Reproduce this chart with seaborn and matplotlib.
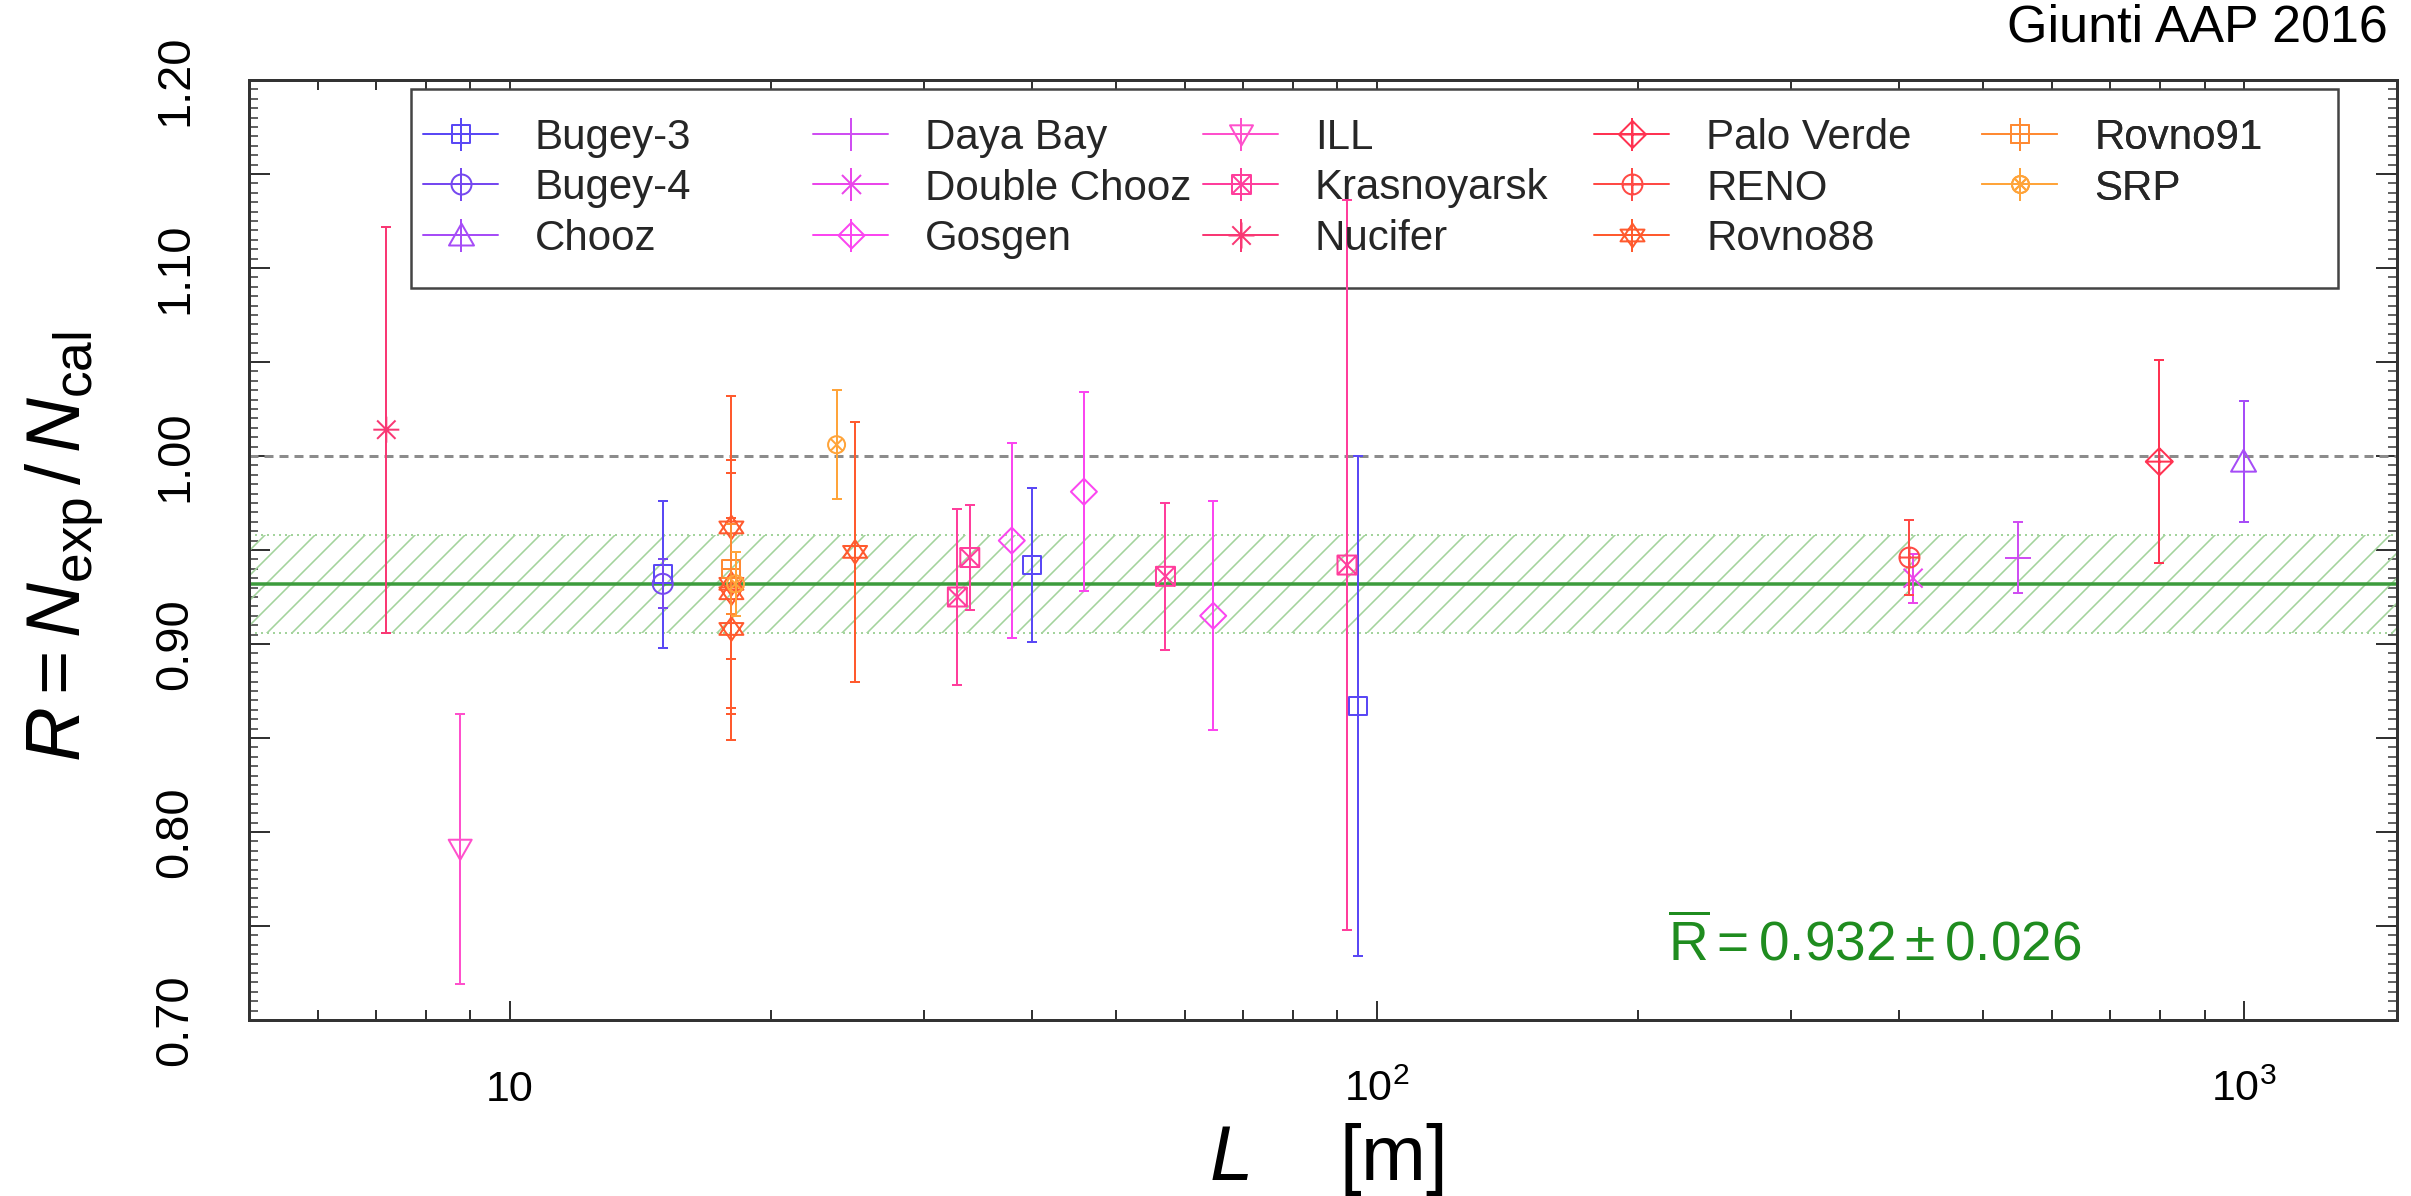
import numpy as np
import pandas as pd
import matplotlib
matplotlib.use("Agg")
import matplotlib.pyplot as plt
from matplotlib.path import Path
from matplotlib.lines import Line2D
from matplotlib.legend_handler import HandlerTuple
from matplotlib.patches import Rectangle
import matplotlib.ticker as mticker
import seaborn as sns

# ---------------- data ----------------
experiments = ["Bugey-3", "Bugey-4", "Chooz", "Daya Bay", "Double Chooz", "Gosgen",
               "ILL", "Krasnoyarsk", "Nucifer", "Palo Verde", "RENO", "Rovno88",
               "Rovno91", "SRP"]

bugey3_L = [15.0, 40.0, 95.0]
bugey3_R = [0.937, 0.942, 0.867]
bugey3_err = [0.039, 0.041, 0.133]

bugey4_L = [15.0]
bugey4_R = [0.932]
bugey4_err = [0.013]

chooz_L = [998.0]
chooz_R = [0.997]
chooz_err = [0.032]

dayabay_L = [549.0]
dayabay_R = [0.946]
dayabay_err = [0.019]

doublechooz_L = [415.0]
doublechooz_R = [0.935]
doublechooz_err = [0.013]

gosgen_L = [37.9, 45.9, 64.7]
gosgen_R = [0.955, 0.981, 0.915]
gosgen_err = [0.052, 0.053, 0.061]

ill_L = [8.76]
ill_R = [0.791]
ill_err = [0.072]

krasnoyarsk_L = [32.8, 33.9, 57.0, 92.3]
krasnoyarsk_R = [0.925, 0.946, 0.936, 0.942]
krasnoyarsk_err = [0.047, 0.028, 0.039, 0.194]

nucifer_L = [7.2]
nucifer_R = [1.014]
nucifer_err = [0.108]

paloverde_L = [798.0]
paloverde_R = [0.997]
paloverde_err = [0.054]

reno_L = [411.0]
reno_R = [0.946]
reno_err = [0.020]

rovno88_L = [18.0, 18.0, 18.0, 18.0, 25.0]
rovno88_R = [0.962, 0.932, 0.927, 0.908, 0.949]
rovno88_err = [0.070, 0.066, 0.064, 0.059, 0.069]

rovno91_L = [18.0]
rovno91_R = [0.940]
rovno91_err = [0.024]

srp_L = [18.2, 23.8]
srp_R = [0.932, 1.006]
srp_err = [0.017, 0.029]

R_mean = 0.932
R_sigma = 0.026
R_ref = 1.0

x_tick_values = [10, 100, 1000]
x_tick_labels = ["10", "$10^{2}$", "$10^{3}$"]
y_tick_values = [0.70, 0.75, 0.80, 0.85, 0.90, 0.95, 1.00, 1.05, 1.10, 1.15, 1.20]
y_tick_labels = ["0.70", "", "0.80", "", "0.90", "", "1.00", "", "1.10", "", "1.20"]

series = {
    "Bugey-3": (bugey3_L, bugey3_R, bugey3_err),
    "Bugey-4": (bugey4_L, bugey4_R, bugey4_err),
    "Chooz": (chooz_L, chooz_R, chooz_err),
    "Daya Bay": (dayabay_L, dayabay_R, dayabay_err),
    "Double Chooz": (doublechooz_L, doublechooz_R, doublechooz_err),
    "Gosgen": (gosgen_L, gosgen_R, gosgen_err),
    "ILL": (ill_L, ill_R, ill_err),
    "Krasnoyarsk": (krasnoyarsk_L, krasnoyarsk_R, krasnoyarsk_err),
    "Nucifer": (nucifer_L, nucifer_R, nucifer_err),
    "Palo Verde": (paloverde_L, paloverde_R, paloverde_err),
    "RENO": (reno_L, reno_R, reno_err),
    "Rovno88": (rovno88_L, rovno88_R, rovno88_err),
    "Rovno91": (rovno91_L, rovno91_R, rovno91_err),
    "SRP": (srp_L, srp_R, srp_err),
}

# ---------------- styling ----------------
DPI = 150
W, H = 2412, 1196


def pt(px):
    return px * 72.0 / DPI


MO, LI, CL = Path.MOVETO, Path.LINETO, Path.CLOSEPOLY


def closed(pts):
    return Path(list(pts) + [pts[0]], [MO] + [LI] * (len(pts) - 1) + [CL])


def seg(p, q):
    return Path([p, q], [MO, LI])


def scaled(path, sx, sy):
    return Path(path.vertices * np.array([sx, sy]), path.codes)


def comp(*paths):
    return Path.make_compound_path(*paths)


square = closed([(-1, -1), (1, -1), (1, 1), (-1, 1)])
diag = comp(seg((-1, -1), (1, 1)), seg((-1, 1), (1, -1)))
cross = comp(seg((-1, 0), (1, 0)), seg((0, -1), (0, 1)))
circle = Path.unit_circle()
diamond = closed([(0, -1), (1, 0), (0, 1), (-1, 0)])
tri_up = closed([(0, 0.95), (-1, -0.8), (1, -0.8)])
tri_down = closed([(0, -0.95), (-1, 0.8), (1, 0.8)])
hexagram = comp(scaled(closed([(0, 1), (-0.866, -0.5), (0.866, -0.5)]), 1, 0.85),
                scaled(closed([(0, -1), (-0.866, 0.5), (0.866, 0.5)]), 1, 0.85))
asterisk = comp(seg((-1, 0), (1, 0)), seg((0, -1), (0, 1)),
                seg((-0.707, -0.707), (0.707, 0.707)), seg((-0.707, 0.707), (0.707, -0.707)))

style = {
    "Bugey-3": ("#5a48f5", square, 18),
    "Bugey-4": ("#7548f0", circle, 20),
    "Chooz": ("#a64cf7", tri_up, 25),
    "Daya Bay": ("#cf4ef2", cross, 26),
    "Double Chooz": ("#ea46ea", diag, 19),
    "Gosgen": ("#fb46f0", diamond, 26),
    "ILL": ("#ff50cc", tri_down, 23),
    "Krasnoyarsk": ("#ff3e9c", comp(square, diag), 19),
    "Nucifer": ("#f93874", asterisk, 26),
    "Palo Verde": ("#ff3352", comp(diamond, cross), 27),
    "RENO": ("#ff4a45", comp(circle, cross), 20),
    "Rovno88": ("#ff5a2e", hexagram, 24),
    "Rovno91": ("#ff8a33", comp(square, cross), 18),
    "SRP": ("#ffa43a", comp(circle, scaled(diag, 0.707, 0.707)), 17),
}

sns.set_theme(style="ticks")
plt.rcParams["font.family"] = ["Liberation Sans", "DejaVu Sans"]
plt.rcParams["mathtext.fontset"] = "custom"
plt.rcParams["mathtext.rm"] = "Liberation Sans"
plt.rcParams["mathtext.it"] = "Liberation Sans:italic"
plt.rcParams["mathtext.bf"] = "Liberation Sans:bold"
plt.rcParams["hatch.linewidth"] = pt(1.6)
plt.rcParams["axes.edgecolor"] = "#333333"

fig = plt.figure(figsize=(W / DPI, H / DPI), dpi=DPI)
ax_l, ax_r, ax_t, ax_b = 249, 2397, 80, 1020
ax = fig.add_axes([ax_l / W, 1 - ax_b / H, (ax_r - ax_l) / W, (ax_b - ax_t) / H])
ax.set_xscale("log")

# band, reference lines
band_c = "#a3d39c"
ax.axhspan(R_mean - R_sigma, R_mean + R_sigma, facecolor="none", edgecolor=band_c,
           hatch="//", linewidth=0, zorder=1)
for yb in (R_mean - R_sigma, R_mean + R_sigma):
    ax.axhline(yb, color=band_c, lw=pt(2), ls=(0, (1, 2)), zorder=1)
ax.axhline(R_ref, color="#8c8c8c", lw=pt(3), ls=(0, (3, 2)), zorder=2)
ax.axhline(R_mean, color="#3c9c3c", lw=pt(3.5), zorder=3)

# legend frame (drawn under the data, as in the reference)
aw, ah = ax_r - ax_l, ax_b - ax_t
fr_l, fr_r, fr_t, fr_b = 411, 2338, 89, 288
ax.add_patch(Rectangle(((fr_l - ax_l) / aw, (ax_b - fr_b) / ah), (fr_r - fr_l) / aw,
                       (fr_b - fr_t) / ah, transform=ax.transAxes, facecolor="white",
                       edgecolor="#444444", lw=pt(2.5), zorder=4))

# data
lw = pt(2.0)
for i, name in enumerate(experiments):
    L, R, E = series[name]
    c, mk, size = style[name]
    z = 5 + i
    ax.errorbar(L, R, yerr=E, fmt="none", ecolor=c, elinewidth=lw,
                capsize=pt(5), capthick=lw, zorder=z)
    df = pd.DataFrame({"L": L, "R": R})
    sns.scatterplot(data=df, x="L", y="R", ax=ax, marker=mk, s=pt(size) ** 2,
                    color=c, facecolor="none", edgecolor=c, linewidth=lw,
                    legend=False, zorder=z)

# axes limits / ticks
ax.set_xlim(5, 1500)
ax.set_ylim(0.70, 1.20)
ax.set_xlabel("")
ax.set_ylabel("")
ax.set_xticks(x_tick_values, x_tick_labels)
ax.xaxis.set_minor_locator(mticker.LogLocator(base=10, subs=np.arange(2, 10)))
ax.xaxis.set_minor_formatter(mticker.NullFormatter())
ax.set_yticks(y_tick_values, y_tick_labels, rotation=90, va="center")
ax.yaxis.set_minor_locator(mticker.MultipleLocator(0.005))
ax.tick_params(which="both", direction="in", top=True, right=True, colors="#333333",
               labelcolor="black")
ax.tick_params(axis="x", which="major", length=pt(19), width=pt(2), pad=pt(50),
               labelsize=pt(43))
ax.tick_params(axis="x", which="minor", length=pt(10), width=pt(2))
ax.tick_params(axis="y", which="major", length=pt(21), width=pt(2), pad=pt(52),
               labelsize=pt(47))
ax.tick_params(axis="y", which="minor", length=pt(9), width=pt(1.5))
for sp in ax.spines.values():
    sp.set_linewidth(pt(3))
    sp.set_zorder(30)

# legend: five columns, each its own legend, inside one frame
fs = pt(42)
handles = {}
for name in experiments:
    c, mk, size = style[name]
    h1 = Line2D([], [], color=c, lw=lw, marker=mk, markersize=pt(size), mfc="none",
                mec=c, mew=lw)
    h2 = Line2D([], [], color=c, ls="none", marker="|", markersize=pt(33), mew=lw)
    handles[name] = (h1, h2)

columns = [experiments[0:3], experiments[3:6], experiments[6:9], experiments[9:12],
           experiments[12:14]]
col_x = [423, 813, 1203, 1594, 1982]
leg_top = 118
for k, (names, cx) in enumerate(zip(columns, col_x)):
    leg = ax.legend([handles[n] for n in names], names,
                    handler_map={tuple: HandlerTuple(ndivide=1)},
                    loc="upper left",
                    bbox_to_anchor=((cx - ax_l) / aw, (ax_b - leg_top) / ah),
                    borderaxespad=0, borderpad=0, frameon=False, fontsize=fs,
                    handlelength=75 / 42, handletextpad=37 / 42, labelspacing=0.25,
                    handleheight=0.8)
    leg.set_zorder(40)
    ax.add_artist(leg)

# texts
ax.text(216.6, 0.7319, r"$\overline{\rm R} = 0.932 \pm 0.026$", color="#1f8c1f",
        fontsize=pt(55), ha="left", va="baseline", zorder=40)
fig.text(2388 / W, 1 - 41 / H, "Giunti AAP 2016", ha="right", va="baseline",
         fontsize=pt(52), color="black")
fig.text(1326 / W, 1 - 1180 / H, r"$L$    [m]", ha="center", va="baseline",
         fontsize=pt(78), color="black")
fig.text(80 / W, 1 - 547 / H, r"$R = N_{\rm exp}\,/\,N_{\rm cal}$", rotation=90,
         rotation_mode="anchor", ha="center", va="baseline", fontsize=pt(76),
         color="black")

fig.savefig("out.png", dpi=DPI, facecolor="white")
